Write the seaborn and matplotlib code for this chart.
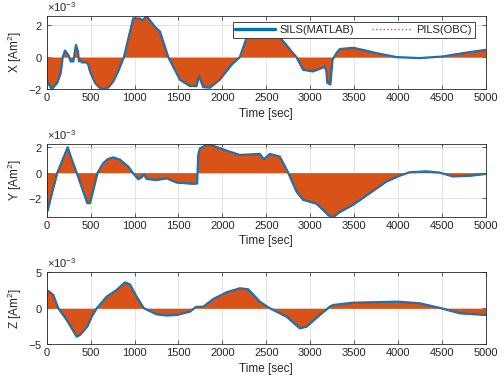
import pandas as pd
import matplotlib
matplotlib.use("Agg")
import matplotlib.pyplot as plt
from matplotlib.ticker import ScalarFormatter
from matplotlib.lines import Line2D
import seaborn as sns

# 时间 [sec] 和磁矩 [x1e-3 Am^2]，从图上读出来的
t_x = [0, 3, 57, 120, 159, 182, 208, 246, 273, 303, 333, 356, 367, 379, 398, 455, 474, 493, 550, 600,
       644, 700, 760, 820, 879, 985, 1062, 1093, 1138, 1230, 1289, 1384, 1517, 1630, 1706, 1733, 1782, 1858,
       1972, 2105, 2199, 2282, 2400, 2500, 2600, 2673, 2730, 2787, 2844, 2920, 3033, 3166, 3185, 3195,
       3230, 3254, 3299, 3337, 3488, 3600, 3754, 3982, 4247, 4512, 4740, 5000]
x_val = [0, -1.5, -2.0, -1.6, -1.0, 0, 0.41, 0.14, -0.27, -0.27, 0.76, 0.35, -0.27, -0.12, -0.33, -0.33, -0.48, -0.9, -1.6, -1.9,
         -2.0, -1.9, -1.5, -0.8, 0, 2.42, 2.4, 2.3, 2.55, 1.9, 1.6, 0, -1.41, -1.8, -1.8, -1.16, -1.87, -1.9,
         -1.4, -0.47, 0, 1.3, 1.8, 1.8, 1.5, 1.1, 0.75, 0.35, 0, -0.79, -0.89, -0.6, -0.9, -1.6,
         -1.7, -0.17, 0.25, 0.5, 0.58, 0.45, 0.25, 0, -0.06, 0.04, 0.25, 0.45]

t_y = [0, 3, 10, 57, 121, 239, 284, 341, 462, 493, 580, 644, 700, 758, 834, 929, 978, 1042, 1080, 1107,
       1137, 1251, 1365, 1479, 1668, 1713, 1725, 1744, 1839, 2048, 2199, 2427, 2472, 2541, 2654, 2749, 2844,
       2920, 3072, 3185, 3204, 3261, 3337, 3488, 3678, 3868, 4019, 4133, 4323, 4475, 4626, 4816, 5000]
y_val = [0, -2.9, -3.0, -1.7, 0, 2.0, 1.05, 0, -2.4, -2.4, 0, 0.75, 1.08, 1.2, 1.02, 0.47, 0, -0.52, -0.37, -0.13,
         -0.5, -0.58, -0.45, -0.78, -0.88, -0.85, 1.39, 1.9, 2.25, 1.73, 1.39, 1.47, 1.05, 1.47, 1.26, 0, -1.49,
         -2.14, -2.45, -3.19, -3.35, -3.5, -3.1, -2.53, -1.62, -0.7, -0.24, 0.03, 0.1, 0, -0.3, -0.25, -0.1]

t_z = [0, 3, 19, 75, 132, 228, 341, 379, 462, 512, 569, 683, 796, 891, 947, 1024, 1107, 1251, 1365, 1479,
       1630, 1680, 1698, 1782, 1896, 2048, 2199, 2294, 2427, 2541, 2730, 2882, 2958, 3109, 3223, 3261, 3488,
       4000, 4247, 4494, 4702, 5000]
z_val = [0, 2.4, 2.4, 1.85, 0, -1.62, -3.94, -3.7, -2.55, -1.16, 0, 1.62, 2.54, 3.6, 3.33, 1.62, 0, -0.84, -1.0, -0.93,
         -0.46, 0, 0.2, 0.22, 1.29, 2.22, 2.78, 2.64, 0.92, 0, -1.16, -2.78, -2.55, -0.93, 0.22, 0.46, 0.78,
         0.92, 0.7, 0, -0.69, -0.93]

axis_names = ['X', 'Y', 'Z']
y_limits = [(-2.0e-3, 2.58e-3), (-3.5e-3, 2.25e-3), (-5e-3, 5e-3)]
y_ticks = [[-2e-3, 0, 2e-3], [-2e-3, 0, 2e-3], [-5e-3, 0, 5e-3]]
x_ticks = list(range(0, 5001, 500))

blue = '#0072BD'
orange = '#D95319'
dark = '#262626'

sns.set_theme(style="white")
plt.rcParams['font.family'] = ['Liberation Sans', 'DejaVu Sans']
plt.rcParams['mathtext.fontset'] = 'custom'
plt.rcParams['mathtext.rm'] = 'Liberation Sans'
plt.rcParams['mathtext.it'] = 'Liberation Sans:italic'
plt.rcParams['axes.unicode_minus'] = False

fig = plt.figure(figsize=(5.04, 3.83), dpi=100)
positions = [[0.0927, 0.767, 0.8713, 0.192],
             [0.0927, 0.433, 0.8713, 0.191],
             [0.0927, 0.101, 0.8713, 0.188]]

series = [(t_x, x_val), (t_y, y_val), (t_z, z_val)]
for i, (t, v) in enumerate(series):
    ax = fig.add_axes(positions[i])
    df = pd.DataFrame({'t': t, 'm': [a * 1e-3 for a in v]})
    # SILS 粗蓝线在下面，OBC 的橙色填充和虚线盖在上面
    sns.lineplot(data=df, x='t', y='m', ax=ax, color=blue, linewidth=1.6,
                 estimator=None, legend=False)
    ax.fill_between(df['t'], 0, df['m'], color=orange, linewidth=0)
    sns.lineplot(data=df, x='t', y='m', ax=ax, color=orange, linewidth=0.8,
                 linestyle=':', estimator=None, legend=False)

    ax.set_xlim(0, 5000)
    ax.set_ylim(*y_limits[i])
    ax.set_xticks(x_ticks)
    ax.set_yticks(y_ticks[i])
    fmt = ScalarFormatter(useMathText=True)
    fmt.set_powerlimits((-2, 2))
    ax.yaxis.set_major_formatter(fmt)
    ax.yaxis.get_offset_text().set_fontsize(8)
    ax.yaxis.get_offset_text().set_color('#555555')

    ax.grid(True, color='#dedede', linewidth=0.6)
    ax.tick_params(axis='both', direction='in', length=3, width=0.5, colors=dark,
                   labelsize=8, top=True, right=True, bottom=True, left=True, pad=3)
    for s in ax.spines.values():
        s.set_color(dark)
        s.set_linewidth(0.6)
    ax.set_xlabel('Time [sec]', fontsize=8.5, color=dark, labelpad=3)
    ax.set_ylabel(axis_names[i] + ' [Am$^2$]', fontsize=8.5, color=dark, labelpad=3)

    if i == 0:
        handles = [Line2D([], [], color=blue, linewidth=2.4),
                   Line2D([], [], color=orange, linewidth=1.0, linestyle=':')]
        leg = ax.legend(handles, ['SILS(MATLAB)', 'PILS(OBC)'], ncol=2, loc='upper right',
                        bbox_to_anchor=(0.975, 0.91), borderaxespad=0, fontsize=8,
                        frameon=True, fancybox=False, framealpha=1, edgecolor=dark,
                        handlelength=3.6, handletextpad=0.4, columnspacing=1.6,
                        borderpad=0.25)
        leg.get_frame().set_linewidth(0.6)

fig.savefig('out.png', dpi=100)
